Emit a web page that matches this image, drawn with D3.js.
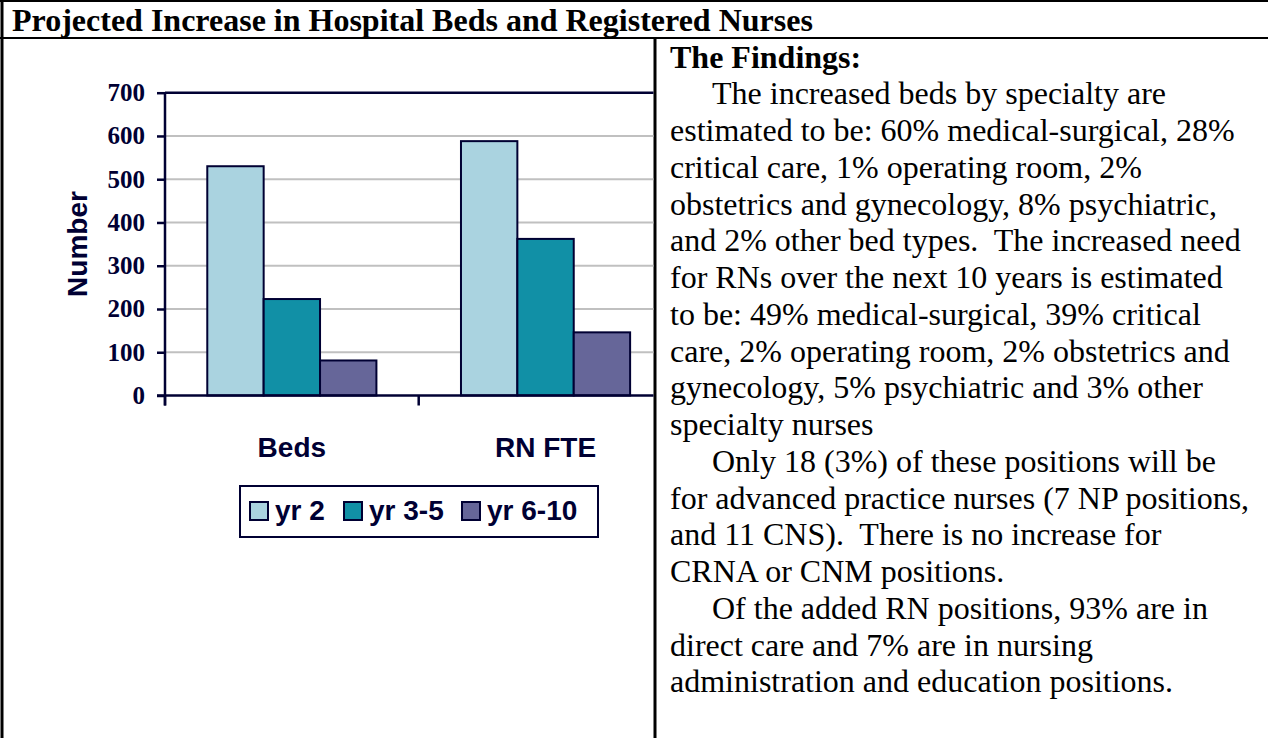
<!DOCTYPE html>
<html>
<head>
<meta charset="utf-8">
<script src="https://cdn.jsdelivr.net/npm/d3@7"></script>
<style>
  body { margin: 0; background: #fff; }
  svg text { white-space: pre; }
</style>
</head>
<body>
<div id="page"></div>
<script>
// data
const categories = ['Beds', 'RN FTE']
const series = ['yr 2', 'yr 3-5', 'yr 6-10']
const yr2 = [530, 588]
const yr3to5 = [223, 362]
const yr6to10 = [81, 146]
const yTicks = [0, 100, 200, 300, 400, 500, 600, 700]
const colors = ['#aad3e0', '#1190a6', '#666699']

const title = 'Projected Increase in Hospital Beds and Registered Nurses'
const findings = [
  { t: 'The Findings:', bold: true },
  { t: 'The increased beds by specialty are', indent: true },
  { t: 'estimated to be: 60% medical-surgical, 28%' },
  { t: 'critical care, 1% operating room, 2%' },
  { t: 'obstetrics and gynecology, 8% psychiatric,' },
  { t: 'and 2% other bed types.  The increased need' },
  { t: 'for RNs over the next 10 years is estimated' },
  { t: 'to be: 49% medical-surgical, 39% critical' },
  { t: 'care, 2% operating room, 2% obstetrics and' },
  { t: 'gynecology, 5% psychiatric and 3% other' },
  { t: 'specialty nurses' },
  { t: 'Only 18 (3%) of these positions will be', indent: true },
  { t: 'for advanced practice nurses (7 NP positions,' },
  { t: 'and 11 CNS).  There is no increase for' },
  { t: 'CRNA or CNM positions.' },
  { t: 'Of the added RN positions, 93% are in', indent: true },
  { t: 'direct care and 7% are in nursing' },
  { t: 'administration and education positions.' }
]

const W = 1268, H = 738
const navy = '#000033'
const serif = '"Liberation Serif", "Times New Roman", serif'
const sans = '"Liberation Sans", Arial, sans-serif'

const svg = d3.select('#page').append('svg')
  .attr('width', W).attr('height', H)

// # table borders
const divX = 655
svg.append('line').attr('x1', 0).attr('x2', W).attr('y1', 1).attr('y2', 1)
  .attr('stroke', '#000').attr('stroke-width', 2)
svg.append('line').attr('x1', 0).attr('x2', W).attr('y1', 38).attr('y2', 38)
  .attr('stroke', '#000').attr('stroke-width', 2)
svg.append('line').attr('x1', 2).attr('x2', 2).attr('y1', 0).attr('y2', H)
  .attr('stroke', '#000').attr('stroke-width', 3)
svg.append('line').attr('x1', divX).attr('x2', divX).attr('y1', 38).attr('y2', H)
  .attr('stroke', '#000').attr('stroke-width', 3)

svg.append('text').attr('x', 12).attr('y', 31)
  .attr('font-family', serif).attr('font-size', 32).attr('font-weight', 'bold')
  .text(title)

// # findings text
svg.append('g').selectAll('text').data(findings).enter().append('text')
  .attr('x', d => d.indent ? 712 : 670)
  .attr('y', (d, i) => 67.5 + i * 36.75)
  .attr('font-family', serif).attr('font-size', 32)
  .attr('font-weight', d => d.bold ? 'bold' : 'normal')
  .text(d => d.t)

// # chart
const left = 165, bandW = 253.7, yTop = 92.7, yBase = 395.5
const x0 = d3.scaleBand().domain(categories).range([left, left + 2 * bandW])
const x1 = d3.scaleBand().domain(series).range([0, bandW]).paddingOuter(0.75)
const y = d3.scaleLinear().domain([0, 700]).range([yBase, yTop])

svg.append('clipPath').attr('id', 'plotclip')
  .append('rect').attr('x', 0).attr('y', 0).attr('width', divX - 1.5).attr('height', H)

const plot = svg.append('g').attr('clip-path', 'url(#plotclip)')

// gridlines
plot.append('g').selectAll('line').data(yTicks.filter(v => v > 0 && v < 700)).enter()
  .append('line')
  .attr('x1', left).attr('x2', left + 2 * bandW)
  .attr('y1', d => y(d)).attr('y2', d => y(d))
  .attr('stroke', '#c0c0c0').attr('stroke-width', 2)

// top border of plot area
plot.append('line').attr('x1', left).attr('x2', left + 2 * bandW)
  .attr('y1', y(700)).attr('y2', y(700))
  .attr('stroke', navy).attr('stroke-width', 2.5)

const rows = categories.map((c, i) => ({
  cat: c,
  vals: [yr2[i], yr3to5[i], yr6to10[i]]
}))

plot.append('g').selectAll('g').data(rows).enter().append('g')
  .attr('transform', d => 'translate(' + x0(d.cat) + ',0)')
  .selectAll('rect').data(d => d.vals.map((v, k) => ({ s: series[k], v: v, k: k })))
  .enter().append('rect')
  .attr('x', d => x1(d.s))
  .attr('width', x1.bandwidth())
  .attr('y', d => y(d.v))
  .attr('height', d => y(0) - y(d.v))
  .attr('fill', d => colors[d.k])
  .attr('stroke', navy).attr('stroke-width', 2)

// x axis line
plot.append('line').attr('x1', left - 8).attr('x2', left + 2 * bandW)
  .attr('y1', yBase).attr('y2', yBase)
  .attr('stroke', navy).attr('stroke-width', 2.5)

// category boundary ticks
plot.append('g').selectAll('line').data(categories).enter().append('line')
  .attr('x1', d => x0(d)).attr('x2', d => x0(d))
  .attr('y1', yBase).attr('y2', yBase + 10)
  .attr('stroke', navy).attr('stroke-width', 2.5)

// y axis
const yAxis = svg.append('g').attr('transform', 'translate(' + left + ',0)')
  .call(d3.axisLeft(y).tickValues(yTicks).tickSize(8).tickPadding(12).tickSizeOuter(0))
yAxis.select('.domain').remove()
yAxis.selectAll('.tick line').attr('stroke', navy).attr('stroke-width', 2.5)
yAxis.selectAll('.tick text')
  .attr('font-family', serif).attr('font-size', 25).attr('font-weight', 'bold')
  .attr('fill', navy)
svg.append('line').attr('x1', left).attr('x2', left)
  .attr('y1', yTop).attr('y2', yBase + 10)
  .attr('stroke', navy).attr('stroke-width', 2.5)

// category labels
const xAxis = svg.append('g').attr('transform', 'translate(0,' + yBase + ')')
  .call(d3.axisBottom(x0).tickSize(0).tickPadding(42))
xAxis.select('.domain').remove()
xAxis.selectAll('.tick text')
  .attr('font-family', sans).attr('font-size', 28).attr('font-weight', 'bold')
  .attr('fill', navy)

// axis title
svg.append('text')
  .attr('transform', 'translate(87,244) rotate(-90)')
  .attr('text-anchor', 'middle')
  .attr('font-family', sans).attr('font-size', 28).attr('font-weight', 'bold')
  .attr('fill', navy)
  .text('Number')

// legend
const legend = svg.append('g')
legend.append('rect').attr('x', 240).attr('y', 486).attr('width', 358).attr('height', 51)
  .attr('fill', '#fff').attr('stroke', navy).attr('stroke-width', 2)
const legendX = [249, 343, 461]
const items = legend.selectAll('g.item').data(series).enter().append('g')
  .attr('class', 'item')
  .attr('transform', (d, i) => 'translate(' + legendX[i] + ',0)')
items.append('rect').attr('x', 1).attr('y', 502).attr('width', 18).attr('height', 18)
  .attr('fill', (d, i) => colors[i]).attr('stroke', navy).attr('stroke-width', 2)
items.append('text').attr('x', 26).attr('y', 520)
  .attr('font-family', sans).attr('font-size', 28).attr('font-weight', 'bold')
  .attr('fill', navy)
  .text(d => d)
</script>
</body>
</html>
